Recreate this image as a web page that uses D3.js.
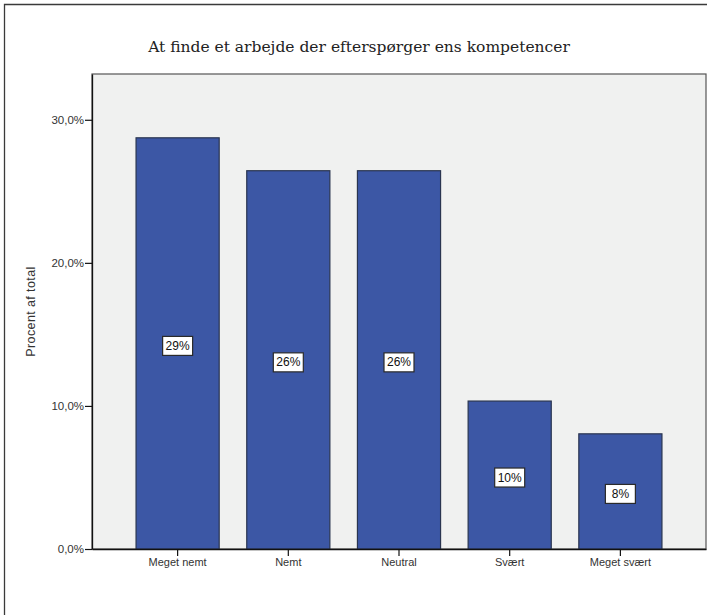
<!DOCTYPE html>
<html><head><meta charset="utf-8">
<script src="https://cdn.jsdelivr.net/npm/d3@7"></script>
<style>
html,body{margin:0;padding:0;background:#fff;}
svg{display:block;}
</style></head>
<body>
<svg id="chart" width="707" height="615"></svg>
<script>
const categories = ["Meget nemt", "Nemt", "Neutral", "Svært", "Meget svært"];
const values = [28.74, 26.44, 26.44, 10.34, 8.05];
const valueLabels = ["29%", "26%", "26%", "10%", "8%"];
const yTicks = [0, 10, 20, 30];
const titleText = "At finde et arbejde der efterspørger ens kompetencer";
const yTitle = "Procent af total";

const svg = d3.select("#chart");
const W = 707, H = 615;
const m = {left: 92, right: 1, top: 74, bottom: 66};
const x0 = m.left, x1 = W - m.right, y0 = m.top, y1 = H - m.bottom;

// outer frame
svg.append("path").attr("d", `M4.5,${H} V4.5 H${W}`)
  .attr("fill", "none").attr("stroke", "#3a3a3a").attr("stroke-width", 1.3);

const x = d3.scaleBand().domain(categories).range([x0, x1]).paddingInner(0.249).paddingOuter(0.398);
const y = d3.scaleLinear().domain([0, 33.2]).range([y1, y0]);

// plot bg
svg.append("rect").attr("x", x0).attr("y", y0).attr("width", x1 - x0).attr("height", y1 - y0)
  .attr("fill", "#f0f1f0").attr("stroke", "#555").attr("stroke-width", 1.2);

// title
const title = svg.append("text").attr("x", 359).attr("y", 52).attr("text-anchor", "middle")
  .attr("font-family", "DejaVu Serif")
  .attr("font-size", 14).attr("fill", "#222").text(titleText);
const tw = title.node().getComputedTextLength();
title.attr("font-size", 14 * 422 / tw);

// bars
svg.selectAll("rect.bar").data(values).join("rect").attr("class", "bar")
  .attr("x", (d, i) => x(categories[i])).attr("width", x.bandwidth())
  .attr("y", d => y(d)).attr("height", d => y(0) - y(d))
  .attr("fill", "#3c57a5").attr("stroke", "#2a3550").attr("stroke-width", 1.2);

// value labels
const lab = svg.selectAll("g.lab").data(values).join("g").attr("class", "lab")
  .attr("transform", (d, i) => `translate(${x(categories[i]) + x.bandwidth() / 2},${(y(d) + y(0)) / 2 + 2})`);
lab.append("rect").attr("x", -15).attr("y", -9).attr("width", 30).attr("height", 19)
  .attr("fill", "#fff").attr("stroke", "#2a2a2a").attr("stroke-width", 1.2);
lab.append("text").attr("text-anchor", "middle").attr("y", 4.5)
  .attr("font-family", "Liberation Sans, Arial, sans-serif").attr("font-size", 12).attr("fill", "#111")
  .text((d, i) => valueLabels[i]);

// y axis
const yAxis = svg.append("g").attr("transform", `translate(${x0},0)`)
  .call(d3.axisLeft(y).tickValues(yTicks).tickSize(7).tickSizeOuter(0).tickPadding(1)
    .tickFormat(d => d3.format(".1f")(d).replace(".", ",") + "%"));
yAxis.select(".domain").attr("stroke", "#111").attr("stroke-width", 1.3);
yAxis.selectAll(".tick line").attr("stroke", "#111").attr("stroke-width", 1.2);
yAxis.selectAll("text").attr("font-family", "Liberation Sans, Arial, sans-serif").attr("font-size", 11.5).attr("fill", "#333");

// x axis
const xAxis = svg.append("g").attr("transform", `translate(0,${y1})`)
  .call(d3.axisBottom(x).tickSize(7).tickSizeOuter(0).tickPadding(2));
xAxis.select(".domain").attr("stroke", "#111").attr("stroke-width", 1.5);
xAxis.selectAll(".tick line").attr("stroke", "#111").attr("stroke-width", 1.2);
xAxis.selectAll("text").attr("font-family", "Liberation Sans, Arial, sans-serif").attr("font-size", 11).attr("fill", "#333");

// y title
svg.append("text").attr("transform", `translate(35,${(y0 + y1) / 2}) rotate(-90)`)
  .attr("text-anchor", "middle").attr("font-family", "Liberation Sans, Arial, sans-serif")
  .attr("font-size", 12.5).attr("letter-spacing", 0.4).attr("fill", "#333").text(yTitle);
</script>
</body></html>
